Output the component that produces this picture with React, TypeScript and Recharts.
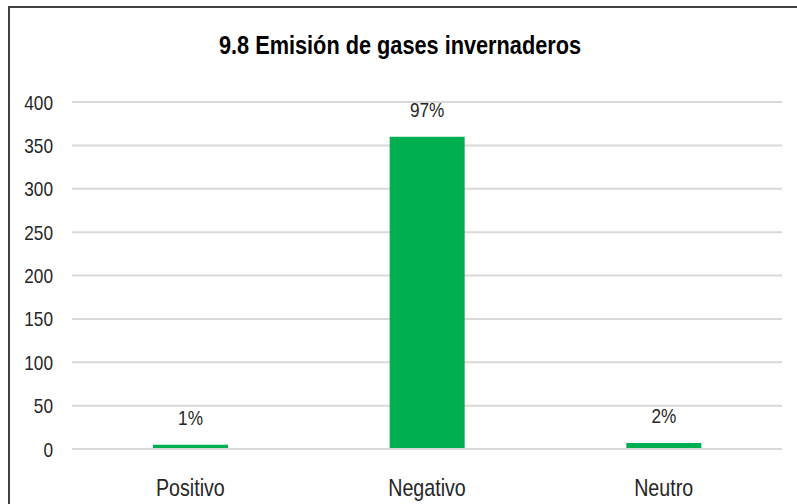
import React from 'react';
import { BarChart, Bar, XAxis, YAxis, CartesianGrid, LabelList } from 'recharts';

const categories = ['Positivo', 'Negativo', 'Neutro'];
const values = [5, 360, 7];
const percentLabels = ['1%', '97%', '2%'];
const yTicks = [0, 50, 100, 150, 200, 250, 300, 350, 400];
const title = '9.8 Emisión de gases invernaderos';

const data = categories.map((c, i) => ({ name: c, value: values[i], pct: percentLabels[i] }));

const FONT = "'Liberation Sans', Arial, sans-serif";
const TEXT = '#262626';
const NARROW = 0.82;

const NText = (p: { x: number; y: number; anchor: string; size: number; bold?: boolean; fill?: string; children: any }) => (
  <text
    transform={`translate(${p.x},${p.y}) scale(${NARROW},1)`}
    x={0}
    y={0}
    textAnchor={p.anchor}
    fontFamily={FONT}
    fontSize={p.size}
    fontWeight={p.bold ? 'bold' : 'normal'}
    fill={p.fill || TEXT}
  >
    {p.children}
  </text>
);

const XTick = (props: any) => {
  const { x, y, payload } = props;
  return (
    <NText x={x} y={y + 47} anchor="middle" size={24}>
      {payload.value}
    </NText>
  );
};

const YTick = (props: any) => {
  const { x, y, payload } = props;
  return (
    <NText x={x - 19} y={y + 7.5} anchor="end" size={21}>
      {payload.value}
    </NText>
  );
};

const PctLabel = (props: any) => {
  const { x, y, width, index } = props;
  return (
    <NText x={x + width / 2} y={y - 20} anchor="middle" size={21}>
      {percentLabels[index]}
    </NText>
  );
};

export default function App() {
  return (
    <div style={{ position: 'fixed', left: 0, top: 0, width: 797, height: 504, overflow: 'hidden', background: '#fff' }}>
      <style>{'html,body{overflow:hidden;margin:0;}'}</style>
      <div
        style={{
          position: 'absolute',
          left: 8,
          top: 6,
          width: 820,
          height: 540,
          border: '2px solid #404040',
          boxSizing: 'border-box',
        }}
      />
      <div style={{ position: 'absolute', left: 0, top: 0 }}>
        <BarChart
          width={797}
          height={504}
          data={data}
          margin={{ top: 102, right: 15, bottom: 0, left: 0 }}
        >
          <CartesianGrid vertical={false} stroke="#d9d9d9" strokeWidth={2} />
          <XAxis
            dataKey="name"
            height={55}
            tickSize={0}
            tickMargin={0}
            tickLine={false}
            axisLine={{ stroke: '#d9d9d9', strokeWidth: 2 }}
            tick={<XTick />}
            interval={0}
          />
          <YAxis
            width={72}
            domain={[0, 400]}
            ticks={yTicks}
            tickSize={0}
            tickMargin={0}
            tickLine={false}
            axisLine={false}
            tick={<YTick />}
            interval={0}
          />
          <Bar dataKey="value" fill="#00B050" barSize={75} isAnimationActive={false}>
            <LabelList dataKey="pct" content={<PctLabel />} />
          </Bar>
        </BarChart>
      </div>
      <svg width={797} height={504} style={{ position: 'absolute', left: 0, top: 0, pointerEvents: 'none' }}>
        <NText x={400} y={54} anchor="middle" size={26.5} bold fill="#000">
          {title}
        </NText>
      </svg>
    </div>
  );
}
